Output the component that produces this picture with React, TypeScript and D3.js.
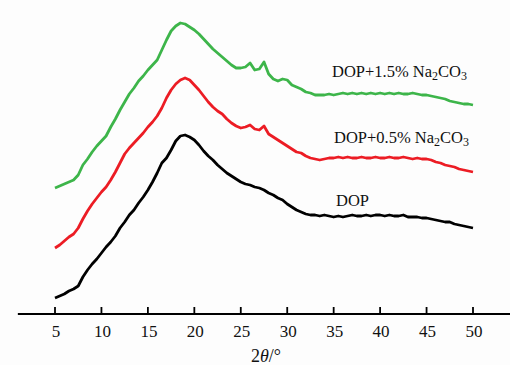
import React from "react";
import * as d3 from "d3";

const xValues: number[] = d3.range(5, 50.001, 0.5).map((v) => +v.toFixed(1));

const dopValues: number[] = [
  16, 18, 20, 23, 25, 28, 37, 44, 50, 55,
  61, 67, 72, 78, 86, 92, 99, 104, 111, 117,
  124, 132, 141, 151, 156, 164, 173, 178, 179, 177,
  174, 169, 163, 158, 154, 149, 145, 141, 138, 135,
  132, 130, 129, 127, 126, 124, 121, 119, 116, 114,
  110, 107, 104, 102, 100, 99, 99, 98, 99, 98,
  97, 98, 97, 98, 99, 98, 98, 99, 98, 99,
  99, 98, 99, 98, 98, 99, 97, 97, 97, 96,
  96, 95, 94, 93, 92, 92, 90, 89, 88, 87,
  86,
];

const dop05Values: number[] = [
  66, 69, 73, 77, 80, 86, 95, 103, 110, 116,
  122, 127, 134, 142, 151, 160, 166, 171, 176, 181,
  187, 192, 198, 206, 216, 224, 230, 234, 236, 234,
  229, 224, 218, 212, 207, 203, 200, 195, 191, 188,
  186, 187, 189, 185, 184, 188, 180, 177, 174, 171,
  168, 165, 162, 161, 158, 156, 155, 154, 155, 156,
  156, 157, 156, 157, 156, 156, 157, 156, 156, 157,
  156, 156, 157, 156, 156, 157, 156, 155, 156, 155,
  155, 154, 152, 151, 149, 148, 147, 145, 144, 143,
  142,
];

const dop15Values: number[] = [
  126, 128, 130, 132, 134, 139, 149, 155, 162, 168,
  173, 178, 187, 195, 204, 212, 220, 226, 233, 238,
  244, 249, 254, 264, 274, 283, 288, 291, 290, 287,
  284, 280, 275, 270, 265, 261, 257, 253, 249, 246,
  246, 247, 251, 244, 245, 252, 240, 235, 233, 235,
  234, 229, 227, 225, 222, 221, 219, 219, 219, 220,
  219, 220, 221, 220, 221, 220, 221, 220, 221, 220,
  221, 220, 221, 220, 221, 220, 220, 221, 220, 219,
  219, 218, 217, 216, 215, 213, 212, 211, 210, 210,
  209,
];

const xTicks: number[] = [5, 10, 15, 20, 25, 30, 35, 40, 45, 50];
const seriesNames: string[] = ["DOP", "DOP+0.5% Na2CO3", "DOP+1.5% Na2CO3"];
const seriesColors: string[] = ["#000000", "#ec1c24", "#3db54a"];

const W = 510;
const H = 365;
const FONT = "'Liberation Serif', 'Times New Roman', serif";

export default function App() {
  const x = d3.scaleLinear().domain([5, 50]).range([55, 473]);
  const y = d3.scaleLinear().domain([0, 300]).range([314, 14]);
  const line = d3
    .line<number>()
    .x((_, i) => x(xValues[i]))
    .y((d) => y(d))
    .curve(d3.curveLinear);

  const allSeries = [dopValues, dop05Values, dop15Values];
  const labelPos = [
    { lx: 336, ly: 206 },
    { lx: 334, ly: 143 },
    { lx: 332, ly: 77 },
  ];

  const renderLabel = (name: string) => {
    if (name === "DOP") return <tspan>DOP</tspan>;
    const pre = name.replace(" Na2CO3", " Na");
    return (
      <>
        <tspan>{pre}</tspan>
        <tspan fontSize="12" dy="3">2</tspan>
        <tspan dy="-3">CO</tspan>
        <tspan fontSize="12" dy="3">3</tspan>
      </>
    );
  };

  return (
    <svg
      width={W}
      height={H}
      style={{ position: "absolute", left: 0, top: 0, background: "#fdfdfd" }}
    >
      {allSeries.map((vals, i) => (
        <path
          key={i}
          d={line(vals) || ""}
          fill="none"
          stroke={seriesColors[i]}
          strokeWidth={2.8}
          strokeLinejoin="round"
        />
      ))}
      <line x1={x(1)} x2={x(54)} y1={y(0)} y2={y(0)} stroke="#000" strokeWidth={1.8} />
      {xTicks.map((t) => (
        <g key={t}>
          <line x1={x(t)} x2={x(t)} y1={y(0)} y2={y(0) - 7} stroke="#000" strokeWidth={1.8} />
          <text
            x={x(t) + 1}
            y={337}
            textAnchor="middle"
            fontFamily={FONT}
            fontSize={17}
            fill="#111"
          >
            {t}
          </text>
        </g>
      ))}
      <text x={266} y={362} textAnchor="middle" fontFamily={FONT} fontSize={18} fill="#111">
        2<tspan fontStyle="italic">θ</tspan>/°
      </text>
      {seriesNames.map((n, i) => (
        <text
          key={n}
          x={labelPos[i].lx}
          y={labelPos[i].ly}
          fontFamily={FONT}
          fontSize={16.5}
          fill="#111"
        >
          {renderLabel(n)}
        </text>
      ))}
    </svg>
  );
}
